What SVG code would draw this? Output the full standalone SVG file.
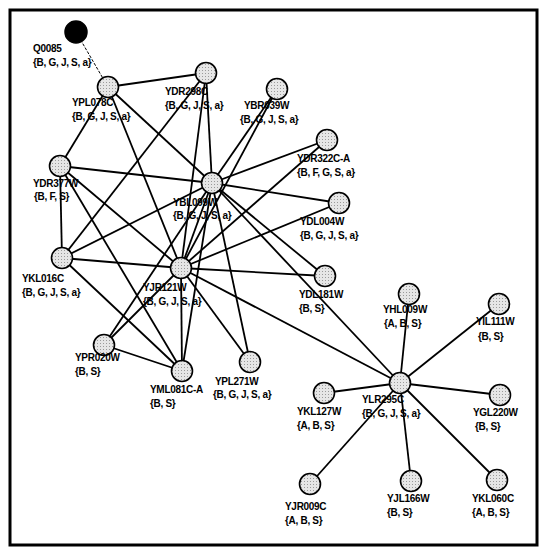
<svg xmlns="http://www.w3.org/2000/svg" width="541" height="550" viewBox="0 0 541 550">
<defs>
<pattern id="dots" width="3" height="3" patternUnits="userSpaceOnUse">
<rect width="3" height="3" fill="#e6e6e6"/>
<rect x="1" y="1" width="1" height="1" fill="#9a9a9a"/>
</pattern>
</defs>
<style>
.e{stroke:#000;stroke-width:1.8;fill:none}
.thin{stroke:#000;stroke-width:1;stroke-dasharray:3 1.5;fill:none}
.n{fill:url(#dots);stroke:#000;stroke-width:1.6}
.b{fill:#000;stroke:#000;stroke-width:1.5}
text{font-family:"Liberation Sans",Arial,sans-serif;font-size:10px;font-weight:bold;fill:#000;letter-spacing:-0.3px}
</style>
<rect x="0" y="0" width="541" height="550" fill="#fff"/>
<rect x="10" y="10" width="527" height="535" fill="none" stroke="#000" stroke-width="3"/>
<g id="edges">
<line class="thin" x1="76" y1="32" x2="108" y2="87"/>
<line class="e" x1="108" y1="87" x2="206" y2="73"/>
<line class="e" x1="108" y1="87" x2="60" y2="166"/>
<line class="e" x1="108" y1="87" x2="212" y2="183"/>
<line class="e" x1="108" y1="87" x2="181" y2="268"/>
<line class="e" x1="206" y1="73" x2="62" y2="258"/>
<line class="e" x1="206" y1="73" x2="212" y2="183"/>
<line class="e" x1="206" y1="73" x2="181" y2="268"/>
<line class="e" x1="277" y1="89" x2="212" y2="183"/>
<line class="e" x1="277" y1="89" x2="181" y2="268"/>
<line class="e" x1="327" y1="140" x2="212" y2="183"/>
<line class="e" x1="327" y1="140" x2="181" y2="268"/>
<line class="e" x1="339" y1="203" x2="212" y2="183"/>
<line class="e" x1="339" y1="203" x2="181" y2="268"/>
<line class="e" x1="60" y1="166" x2="212" y2="183"/>
<line class="e" x1="60" y1="166" x2="62" y2="258"/>
<line class="e" x1="60" y1="166" x2="181" y2="268"/>
<line class="e" x1="60" y1="166" x2="182" y2="371"/>
<line class="e" x1="62" y1="258" x2="212" y2="183"/>
<line class="e" x1="62" y1="258" x2="181" y2="268"/>
<line class="e" x1="62" y1="258" x2="182" y2="371"/>
<line class="e" x1="212" y1="183" x2="181" y2="268"/>
<line class="e" x1="212" y1="183" x2="325" y2="276"/>
<line class="e" x1="212" y1="183" x2="400" y2="383"/>
<line class="e" x1="212" y1="183" x2="250" y2="362"/>
<line class="e" x1="212" y1="183" x2="182" y2="371"/>
<line class="e" x1="212" y1="183" x2="104" y2="345"/>
<line class="e" x1="181" y1="268" x2="325" y2="276"/>
<line class="e" x1="181" y1="268" x2="250" y2="362"/>
<line class="e" x1="181" y1="268" x2="182" y2="371"/>
<line class="e" x1="181" y1="268" x2="104" y2="345"/>
<line class="e" x1="181" y1="268" x2="400" y2="383"/>
<line class="e" x1="104" y1="345" x2="182" y2="371"/>
<line class="e" x1="400" y1="383" x2="409" y2="294"/>
<line class="e" x1="400" y1="383" x2="499" y2="304"/>
<line class="e" x1="400" y1="383" x2="324" y2="393"/>
<line class="e" x1="400" y1="383" x2="500" y2="395"/>
<line class="e" x1="400" y1="383" x2="310" y2="484"/>
<line class="e" x1="400" y1="383" x2="411" y2="481"/>
<line class="e" x1="400" y1="383" x2="497" y2="480"/>
</g>
<g id="Q0085"><circle class="b" cx="76" cy="32" r="11"/><text x="33" y="52">Q0085</text><text x="33" y="66">{B, G, J, S, a}</text></g>
<g id="YPL078C"><circle class="n" cx="108" cy="87" r="10.5"/><text x="72" y="106">YPL078C</text><text x="72" y="120">{B, G, J, S, a}</text></g>
<g id="YDR298C"><circle class="n" cx="206" cy="73" r="10.5"/><text x="165" y="95">YDR298C</text><text x="165" y="109">{B, G, J, S, a}</text></g>
<g id="YBR039W"><circle class="n" cx="277" cy="89" r="10.5"/><text x="244" y="109">YBR039W</text><text x="240" y="123">{B, G, J, S, a}</text></g>
<g id="YDR322C-A"><circle class="n" cx="327" cy="140" r="10.5"/><text x="297" y="162">YDR322C-A</text><text x="297" y="176">{B, F, G, S, a}</text></g>
<g id="YDR377W"><circle class="n" cx="60" cy="166" r="10.5"/><text x="33" y="187">YDR377W</text><text x="34" y="200">{B, F, S}</text></g>
<g id="YBL099W"><circle class="n" cx="212" cy="183" r="10.5"/><text x="173" y="206">YBL099W</text><text x="173" y="219">{B, G, J, S, a}</text></g>
<g id="YDL004W"><circle class="n" cx="339" cy="203" r="10.5"/><text x="300" y="225">YDL004W</text><text x="300" y="239">{B, G, J, S, a}</text></g>
<g id="YKL016C"><circle class="n" cx="62" cy="258" r="10.5"/><text x="22" y="282">YKL016C</text><text x="22" y="296">{B, G, J, S, a}</text></g>
<g id="YJR121W"><circle class="n" cx="181" cy="268" r="10.5"/><text x="143" y="291">YJR121W</text><text x="143" y="305">{B, G, J, S, a}</text></g>
<g id="YDL181W"><circle class="n" cx="325" cy="276" r="10.5"/><text x="299" y="298">YDL181W</text><text x="299" y="312">{B, S}</text></g>
<g id="YHL009W"><circle class="n" cx="409" cy="294" r="10.5"/><text x="383" y="313">YHL009W</text><text x="384" y="327">{A, B, S}</text></g>
<g id="YIL111W"><circle class="n" cx="499" cy="304" r="10.5"/><text x="476" y="325">YIL111W</text><text x="478" y="340">{B, S}</text></g>
<g id="YPR020W"><circle class="n" cx="104" cy="345" r="10.5"/><text x="75" y="361">YPR020W</text><text x="75" y="375">{B, S}</text></g>
<g id="YML081C-A"><circle class="n" cx="182" cy="371" r="10.5"/><text x="150" y="393">YML081C-A</text><text x="150" y="407">{B, S}</text></g>
<g id="YPL271W"><circle class="n" cx="250" cy="362" r="10.5"/><text x="215" y="385">YPL271W</text><text x="213" y="398">{B, G, J, S, a}</text></g>
<g id="YLR295C"><circle class="n" cx="400" cy="383" r="10.5"/><text x="362" y="403">YLR295C</text><text x="362" y="417">{B, G, J, S, a}</text></g>
<g id="YKL127W"><circle class="n" cx="324" cy="393" r="10.5"/><text x="297" y="415">YKL127W</text><text x="297" y="429">{A, B, S}</text></g>
<g id="YGL220W"><circle class="n" cx="500" cy="395" r="10.5"/><text x="473" y="416">YGL220W</text><text x="475" y="430">{B, S}</text></g>
<g id="YJR009C"><circle class="n" cx="310" cy="484" r="10.5"/><text x="285" y="510">YJR009C</text><text x="285" y="524">{A, B, S}</text></g>
<g id="YJL166W"><circle class="n" cx="411" cy="481" r="10.5"/><text x="387" y="502">YJL166W</text><text x="387" y="516">{B, S}</text></g>
<g id="YKL060C"><circle class="n" cx="497" cy="480" r="10.5"/><text x="472" y="502">YKL060C</text><text x="472" y="516">{A, B, S}</text></g>
</svg>
